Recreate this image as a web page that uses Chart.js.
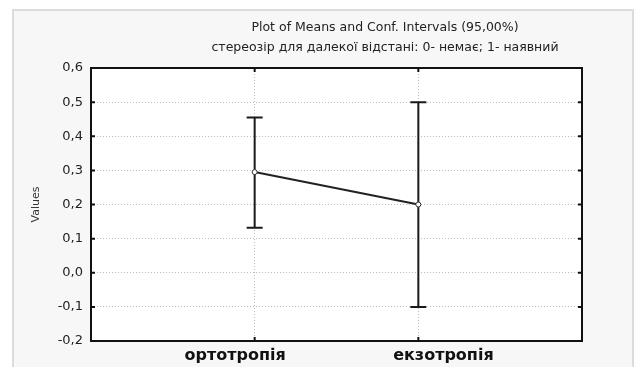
<!DOCTYPE html>
<html>
<head>
<meta charset="utf-8">
<script src="https://cdn.jsdelivr.net/npm/chart.js@4/dist/chart.umd.min.js"></script>
<style>
    body { margin: 0; background: #ffffff; }
    #panel {
        position: absolute; left: 12px; top: 9px; width: 618px; height: 370px;
        border: 2px solid #dcdcdc; background: #f7f7f7;
    }
    #grafica { position: absolute; left: 0; top: 0; }
</style>
</head>
<body>
<div id="panel"></div>
<canvas id="grafica" width="634" height="367"></canvas>
<script>
// Datos
const categorias = ["", "ортотропія", "екзотропія", ""];
const medias = [null, 0.295, 0.2, null];
const limiteInferior = [null, 0.132, -0.1, null];
const limiteSuperior = [null, 0.455, 0.5, null];
const titulo = ["Plot of Means and Conf. Intervals (95,00%)", "стереозір для далекої відстані: 0- немає; 1- наявний"];

const fuente = "'DejaVu Sans', sans-serif";

// Fondo blanco del área, barras de error, marco y marcas interiores
const pluginEstadistica = {
    id: "estadistica",
    beforeDraw(chart) {
        const { ctx, chartArea: a } = chart;
        ctx.save();
        ctx.fillStyle = "#ffffff";
        ctx.fillRect(a.left, a.top, a.right - a.left, a.bottom - a.top);
        ctx.restore();
    },
    beforeDatasetsDraw(chart) {
        const { ctx, scales: { x, y } } = chart;
        ctx.save();
        ctx.strokeStyle = "#1a1a1a";
        ctx.lineWidth = 2;
        medias.forEach((m, i) => {
            if (m === null) return;
            const px = x.getPixelForValue(i);
            const yLo = y.getPixelForValue(limiteInferior[i]);
            const yHi = y.getPixelForValue(limiteSuperior[i]);
            ctx.beginPath();
            ctx.moveTo(px, yLo); ctx.lineTo(px, yHi);
            ctx.moveTo(px - 8, yLo); ctx.lineTo(px + 8, yLo);
            ctx.moveTo(px - 8, yHi); ctx.lineTo(px + 8, yHi);
            ctx.stroke();
        });
        ctx.restore();
    },
    afterDraw(chart) {
        const { ctx, chartArea: a, scales: { x, y } } = chart;
        ctx.save();
        ctx.strokeStyle = "#111111";
        ctx.lineWidth = 2;
        ctx.strokeRect(a.left, a.top, a.right - a.left, a.bottom - a.top);
        ctx.beginPath();
        y.ticks.forEach(t => {
            const py = y.getPixelForValue(t.value);
            ctx.moveTo(a.left, py); ctx.lineTo(a.left + 4, py);
            ctx.moveTo(a.right, py); ctx.lineTo(a.right - 4, py);
        });
        medias.forEach((m, i) => {
            if (m === null) return;
            const px = x.getPixelForValue(i);
            ctx.moveTo(px, a.top); ctx.lineTo(px, a.top + 4);
            ctx.moveTo(px, a.bottom); ctx.lineTo(px, a.bottom - 4);
        });
        ctx.stroke();
        // Título
        ctx.fillStyle = "#222222";
        ctx.font = "12.5px " + fuente;
        ctx.textAlign = "center";
        ctx.textBaseline = "middle";
        ctx.fillText(titulo[0], 385, 28);
        ctx.fillText(titulo[1], 385, 48);
        ctx.restore();
    }
};

new Chart(document.getElementById("grafica"), {
    type: "line",
    data: {
        labels: categorias,
        datasets: [{
            data: medias,
            borderColor: "#222222",
            borderWidth: 2,
            pointRadius: 2.5,
            pointBackgroundColor: "#ffffff",
            pointBorderColor: "#333333",
            pointBorderWidth: 1,
            spanGaps: false,
        }],
    },
    options: {
        responsive: false,
        animation: false,
        layout: { padding: { left: 0, top: 68, right: 52, bottom: 0 } },
        plugins: { legend: { display: false }, title: { display: false }, tooltip: { enabled: false } },
        scales: {
            x: {
                type: "category",
                offset: false,
                afterFit: s => { s.height = 26; },
                grid: {
                    drawTicks: false,
                    color: c => (c.index === 0 || c.index === categorias.length - 1) ? "rgba(0,0,0,0)" : "#bdbdbd",
                    lineWidth: 1,
                },
                border: { display: false, dash: [1, 2] },
                ticks: {
                    padding: 5,
                    color: "#111111",
                    font: { family: fuente, size: 16, weight: "bold" },
                    maxRotation: 0,
                    autoSkip: false,
                    // en el original las etiquetas no quedan centradas en la marca
                    callback: (v, i) => {
                        const t = categorias[i];
                        if (i === 1) return t + "       ";
                        if (i === 2) return "         " + t;
                        return t;
                    },
                },
            },
            y: {
                min: -0.2,
                max: 0.6,
                afterFit: s => { s.width = 91; },
                grid: { drawTicks: false, color: "#bdbdbd", lineWidth: 1 },
                border: { display: false, dash: [1, 2] },
                ticks: {
                    stepSize: 0.1,
                    padding: 8,
                    color: "#222222",
                    font: { family: fuente, size: 13 },
                    callback: v => v.toFixed(1).replace(".", ",").replace("-0,0", "0,0"),
                },
                title: {
                    display: true,
                    text: "Values",
                    color: "#333333",
                    font: { family: fuente, size: 11 },
                    padding: { top: 30, bottom: 0 },
                },
            },
        },
    },
    plugins: [pluginEstadistica],
});
</script>
</body>
</html>
